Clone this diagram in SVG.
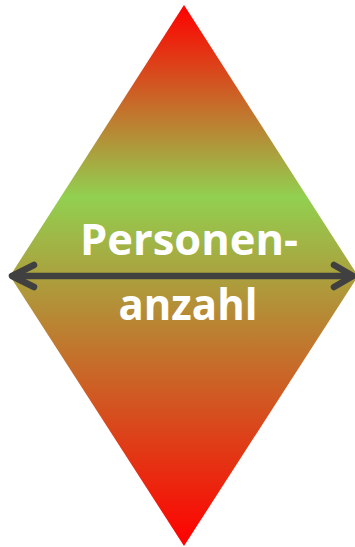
<svg xmlns="http://www.w3.org/2000/svg" width="355" height="547" viewBox="0 0 355 547">
  <defs>
    <linearGradient id="grad" x1="0" y1="5" x2="0" y2="546" gradientUnits="userSpaceOnUse">
      <stop offset="0" stop-color="#FF0000"/>
      <stop offset="0.355" stop-color="#92D050"/>
      <stop offset="1" stop-color="#FF0000"/>
    </linearGradient>
  </defs>
  <style>
    .arrow { fill: none; stroke: #404040; stroke-width: 6.5; stroke-linecap: round; stroke-linejoin: round; }
    .label { font-family: "Open Sans", "Liberation Sans", sans-serif; font-weight: bold; font-size: 43px; fill: #FFFFFF; text-anchor: middle; }
  </style>
  <g id="diamond">
    <polygon points="184,5 358,276 184,546 10,276" fill="url(#grad)"/>
  </g>
  <g id="connectors">
    <line class="arrow" x1="13" y1="276" x2="351" y2="276"/>
    <polyline class="arrow" points="34,265 12,276 34,287"/>
    <polyline class="arrow" points="334,265 353,276 334,287"/>
  </g>
  <g id="label">
    <text class="label" x="189" y="255" textLength="218" lengthAdjust="spacingAndGlyphs">Personen-</text>
    <text class="label" x="188" y="320" textLength="139" lengthAdjust="spacingAndGlyphs">anzahl</text>
  </g>
</svg>
